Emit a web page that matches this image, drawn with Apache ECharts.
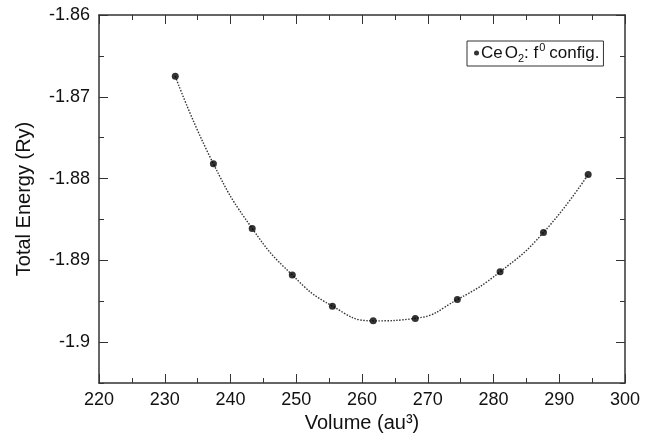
<!DOCTYPE html>
<html>
<head>
<meta charset="utf-8">
<script src="https://cdn.jsdelivr.net/npm/echarts@6/dist/echarts.min.js"></script>
<style>html,body{margin:0;padding:0;background:#fff}#c{width:647px;height:439px}</style>
</head>
<body>
<div id="c"></div>
<script>
const volumes = [231.6, 237.4, 243.3, 249.4, 255.5, 261.7, 268.1, 274.5, 281.0, 287.6, 294.4];
const energies = [-1.8675, -1.8782, -1.8861, -1.8918, -1.8956, -1.8974, -1.8971, -1.8948, -1.8914, -1.8866, -1.8795];
const yTickLabels = [-1.9, -1.89, -1.88, -1.87, -1.86];
const seriesName = 'CeO2: f0 config.';

const pts = volumes.map((v, i) => [v, energies[i]]);
const font = 'Liberation Sans, Arial, Helvetica, sans-serif';
const axisColor = '#333';
const textColor = '#111';

const chart = echarts.init(document.getElementById('c'));
const xBase = {
  type: 'value', min: 220, max: 300, interval: 10,
  axisLine: {show: true, lineStyle: {color: axisColor, width: 1.5}},
  axisTick: {show: true, inside: true, length: 9, lineStyle: {color: axisColor, width: 1}},
  minorTick: {show: true, splitNumber: 2, length: 5, lineStyle: {color: axisColor, width: 1}},
  splitLine: {show: false}
};
const yBase = {
  type: 'value', min: -1.905, max: -1.86, interval: 0.005,
  splitLine: {show: false}
};
chart.setOption({
  animation: false,
  backgroundColor: '#fff',
  grid: {left: 99, right: 22, top: 15, bottom: 56, containLabel: false},
  legend: {
    data: [seriesName],
    left: 467, top: 41,
    orient: 'vertical',
    backgroundColor: '#fff',
    borderColor: '#333', borderWidth: 1,
    padding: [1, 4, 2, 7],
    itemWidth: 5, itemHeight: 5, itemGap: 0,
    icon: 'circle',
    formatter: function () { return '{a|Ce}{o|O}{sub|2}{a|: f}{sup|0}{a|config.}'; },
    textStyle: {
      fontFamily: font, color: textColor, padding: [0, 0, 0, -3],
      rich: {
        a: {fontSize: 17, fontFamily: font, color: textColor, lineHeight: 20, verticalAlign: 'middle'},
        o: {fontSize: 17, fontFamily: font, color: textColor, lineHeight: 20, padding: [0, 0, 0, 2], verticalAlign: 'middle'},
        sub: {fontSize: 11, fontFamily: font, color: textColor, lineHeight: 20, padding: [11, 0, 0, 0], verticalAlign: 'middle'},
        sup: {fontSize: 11, fontFamily: font, color: textColor, lineHeight: 20, padding: [0, 4, 11, 1], verticalAlign: 'middle'}
      }
    }
  },
  xAxis: [
    Object.assign({}, xBase, {
      position: 'bottom',
      axisLabel: {show: true, fontSize: 18, fontFamily: font, color: textColor, margin: 8},
      name: 'Volume (au³)', nameLocation: 'middle', nameGap: 29,
      nameTextStyle: {fontSize: 20, fontFamily: font, color: textColor}
    }),
    Object.assign({}, xBase, {position: 'top', axisLabel: {show: false}})
  ],
  yAxis: [
    Object.assign({}, yBase, {
      position: 'left',
      axisLine: {show: true, lineStyle: {color: axisColor, width: 1.5}},
      axisTick: {show: true, inside: true, length: 9, customValues: yTickLabels, lineStyle: {color: axisColor}},
      axisLabel: {show: true, customValues: yTickLabels, fontSize: 18, fontFamily: font, color: textColor, margin: 9},
      name: 'Total Energy (Ry)', nameLocation: 'middle', nameGap: 65,
      nameTextStyle: {fontSize: 20, fontFamily: font, color: textColor}
    }),
    Object.assign({}, yBase, {
      position: 'right',
      axisLine: {show: true, lineStyle: {color: axisColor, width: 1.5}},
      axisTick: {show: true, inside: true, length: 9, customValues: yTickLabels, lineStyle: {color: axisColor}},
      axisLabel: {show: false}
    }),
    Object.assign({}, yBase, {
      position: 'left',
      axisLine: {show: false},
      axisTick: {show: true, inside: true, length: 5, lineStyle: {color: axisColor}},
      axisLabel: {show: false}
    }),
    Object.assign({}, yBase, {
      position: 'right',
      axisLine: {show: false},
      axisTick: {show: true, inside: true, length: 5, lineStyle: {color: axisColor}},
      axisLabel: {show: false}
    })
  ],
  series: [
    {
      type: 'line', data: pts, smooth: 0.5, showSymbol: false, symbol: 'none',
      lineStyle: {color: '#333', width: 1.4, type: [1.5, 1.5]},
      z: 2
    },
    {
      name: seriesName, type: 'scatter', data: pts,
      symbol: 'circle', symbolSize: 7,
      itemStyle: {color: '#000'}, z: 3
    }
  ]
});
</script>
</body>
</html>
